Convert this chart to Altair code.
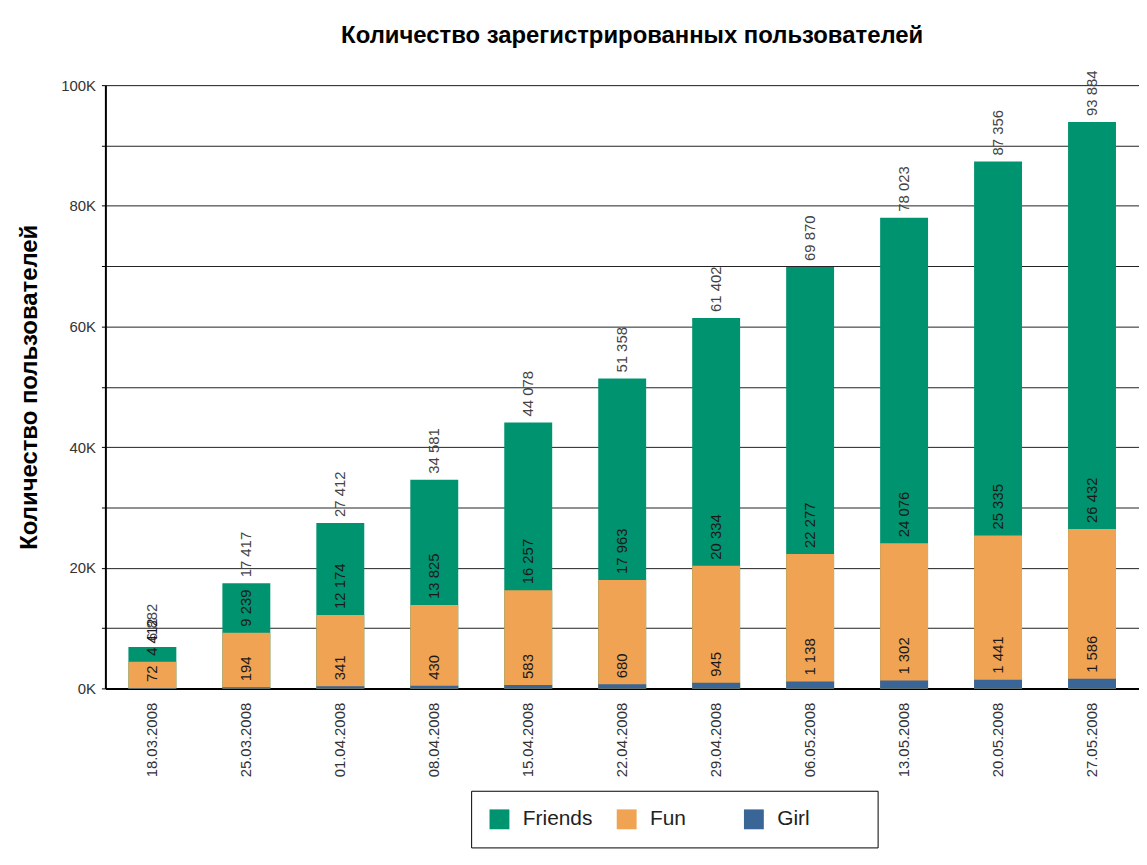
import altair as alt
import pandas as pd

dates = ["18.03.2008", "25.03.2008", "01.04.2008", "08.04.2008", "15.04.2008",
         "22.04.2008", "29.04.2008", "06.05.2008", "13.05.2008", "20.05.2008",
         "27.05.2008"]
series = ["Friends", "Fun", "Girl"]
friends = [6882, 17417, 27412, 34581, 44078, 51358, 61402, 69870, 78023, 87356, 93884]
fun = [4412, 9239, 12174, 13825, 16257, 17963, 20334, 22277, 24076, 25335, 26432]
girl = [72, 194, 341, 430, 583, 680, 945, 1138, 1302, 1441, 1586]
colors = ["#00936f", "#f0a352", "#3a6597"]

rows = []
for name, vals in zip(series, [friends, fun, girl]):
    for d, v in zip(dates, vals):
        rows.append({"date": d, "series": name, "value": v,
                     "label": f"{v:,}".replace(",", " ")})
df = pd.DataFrame(rows)

FONT = "Liberation Sans"

x = alt.X("date:N", sort=dates, title=None,
          scale=alt.Scale(paddingInner=0.49, paddingOuter=0.245),
          axis=alt.Axis(labelAngle=-90, labelFontSize=15, labelColor="#333",
                        labelPadding=14, ticks=False, domainColor="#000",
                        domainWidth=2, labelFont=FONT))
y = alt.Y("value:Q", stack=None, title="Количество пользователей",
          scale=alt.Scale(domain=[0, 100000], nice=False),
          axis=alt.Axis(values=list(range(0, 100001, 10000)),
                        labelExpr="datum.value % 20000 == 0 ? (datum.value/1000) + 'K' : ''",
                        labelFontSize=15, labelColor="#333", labelFont=FONT,
                        tickSize=4, tickColor="#000", labelPadding=6,
                        domainColor="#000", domainWidth=2,
                        grid=True, gridColor="#222", gridWidth=1,
                        titleFont=FONT, titleFontSize=24, titleFontWeight="bold",
                        titleColor="#000", titlePadding=19))

bars = alt.Chart(df).mark_bar(strokeWidth=0).encode(
    x=x, y=y,
    color=alt.Color("series:N", scale=alt.Scale(domain=series, range=colors),
                    sort=series,
                    legend=alt.Legend(title=" ", titleOrient="right", titlePadding=50,
                                      titleFontSize=21,
                                      orient="none", legendX=368, legendY=710,
                                      direction="horizontal", symbolType="square",
                                      symbolSize=400, symbolStrokeWidth=0,
                                      labelFontSize=21, labelFont=FONT, labelColor="#222",
                                      labelOffset=13, columnPadding=23, gridAlign="all",
                                      padding=18, strokeColor="#000", fillColor="#fff")),
    order=alt.Order("ord:Q"),
).transform_calculate(ord="datum.series == 'Friends' ? 0 : (datum.series == 'Fun' ? 1 : 2)")

texts = alt.Chart(df).mark_text(angle=270, align="left", baseline="middle", dx=6,
                                fontSize=15, font=FONT).encode(
    x=alt.X("date:N", sort=dates),
    y=alt.Y("value:Q", stack=None),
    text="label:N",
    color=alt.condition(alt.datum.series == "Friends", alt.value("#444"), alt.value("#1a1a1a")),
)

chart = alt.layer(bars, texts).properties(
    width=1040, height=607,
    title=alt.TitleParams("Количество зарегистрированных пользователей", font=FONT,
                          fontSize=24, fontWeight="bold", color="#000",
                          frame="group", anchor="middle", offset=23, dx=10),
    autosize=alt.AutoSizeParams(type="none"),
    padding={"left": 98, "top": 75, "right": 0, "bottom": 160},
).configure_view(stroke=None).configure(background="#fff")

chart.save("out.html", embed_options={"renderer": "svg", "actions": False})
